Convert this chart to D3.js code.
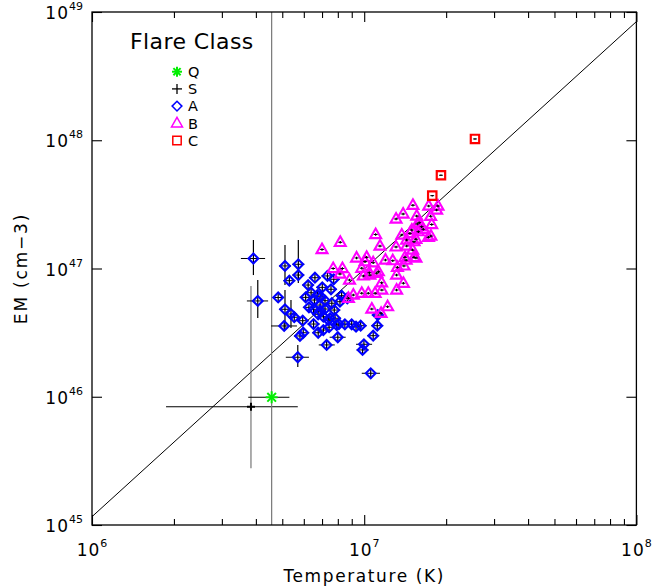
<!DOCTYPE html>
<html>
<head>
<meta charset="utf-8">
<script src="https://cdn.jsdelivr.net/npm/d3@7"></script>
<style>
body { margin: 0; background: #fff; }
text { font-family: "DejaVu Sans", sans-serif; fill: #000; }
</style>
</head>
<body>
<svg id="chart" width="655" height="587"></svg>
<script>
// values, as log10 T (K) and log10 EM (cm^-3)
var classA_logT = [6.593, 6.609, 6.709, 6.758, 6.758, 6.725, 6.684, 6.709, 6.731, 6.743,
  6.706, 6.774, 6.776, 6.764, 6.756, 6.819, 6.846, 6.805, 6.785, 6.817,
  6.841, 6.856, 6.878, 6.888, 6.797, 6.814, 6.838, 6.856, 6.881, 6.890,
  6.850, 6.868, 6.893, 6.907, 6.814, 6.831, 6.850, 6.871, 6.862, 6.903,
  6.828, 6.917, 6.838, 6.911, 6.938, 6.831, 6.874, 6.899, 6.929, 6.954,
  6.970, 6.987, 7.048, 7.033, 6.999, 6.994, 7.024, 7.050, 6.865, 6.794];
var classA_logEM = [47.078, 46.747, 47.020, 47.033, 46.949, 46.905, 46.774, 46.682, 46.645, 46.620,
  46.552, 46.593, 46.499, 46.474, 46.308, 46.928, 46.853, 46.811, 46.775, 46.754,
  46.780, 46.749, 46.838, 46.916, 46.697, 46.682, 46.669, 46.684, 46.729, 46.676,
  46.624, 46.598, 46.612, 46.567, 46.567, 46.499, 46.520, 46.542, 46.404, 46.464,
  46.793, 46.788, 46.715, 46.741, 46.768, 46.643, 46.612, 46.559, 46.565, 46.565,
  46.546, 46.554, 46.554, 46.476, 46.409, 46.365, 46.183, 46.637, 46.942, 46.871];
// class A points with wide error bars: [index, logT lo, logT hi, logEM lo, logEM hi]
var classA_wideErr = [
  [0, 6.547, 6.636, 46.949, 47.222],
  [1, 6.569, 6.647, 46.614, 46.910],
  [2, 6.687, 6.731, 46.871, 47.183],
  [3, 6.736, 6.780, 46.887, 47.222],
  [6, 6.665, 6.705, 46.735, 46.813],
  [7, 6.687, 6.731, 46.520, 46.832],
  [8, 6.709, 6.753, 46.536, 46.754],
  [10, 6.658, 6.753, 46.512, 46.592],
  [14, 6.712, 6.797, 46.232, 46.404],
  [38, 6.833, 6.892, 46.364, 46.444],
  [39, 6.873, 6.932, 46.424, 46.504],
  [44, 6.912, 6.964, 46.728, 46.808],
  [54, 6.970, 7.029, 46.369, 46.449],
  [56, 6.991, 7.058, 46.143, 46.223]];

var classB_logT = [6.845, 6.912, 6.886, 6.920, 6.911, 6.946, 6.972, 7.003, 6.991, 7.033,
  7.052, 7.019, 6.997, 7.078, 7.105, 7.122, 7.154, 7.183, 7.146, 7.119,
  7.144, 7.119, 7.064, 7.065, 7.040, 7.015, 6.991, 6.960, 6.942, 7.028,
  7.062, 7.086, 7.117, 7.058, 7.042, 7.117, 7.143, 7.179, 7.193, 7.195,
  7.168, 7.138, 7.156, 7.183, 7.156, 7.178, 7.190, 7.217, 7.236, 7.248,
  7.245, 7.199, 7.211, 7.244, 7.237, 7.271, 7.266, 7.202, 7.175, 7.190,
  7.150, 7.046, 7.021, 7.009];
var classB_logEM = [47.148, 47.204, 47.000, 47.000, 46.957, 46.910, 47.082, 47.053, 47.002, 47.045,
  46.975, 46.967, 46.942, 47.066, 47.061, 47.009, 47.066, 47.087, 47.020, 46.949,
  46.885, 46.832, 46.889, 46.832, 46.807, 46.807, 46.807, 46.793, 46.768, 46.684,
  46.651, 46.702, 47.168, 47.175, 47.265, 47.386, 47.425, 47.493, 47.409, 47.347,
  47.274, 47.261, 47.222, 47.209, 47.175, 47.144, 47.228, 47.306, 47.243, 47.343,
  47.253, 47.287, 47.326, 47.407, 47.487, 47.487, 47.456, 47.357, 47.300, 47.082,
  47.087, 46.963, 46.949, 47.087];

var classC_logT = [7.407, 7.282, 7.250];
var classC_logEM = [48.010, 47.727, 47.568];

// single Q and S events: [logT, logEM, logT lo, logT hi, logEM lo, logEM hi]
var classQ = [6.660, 45.996, 6.574, 6.725, 44.0, 50.0];
var classS = [6.584, 45.922, 6.272, 6.756, 45.442, 46.864];

// typical half error bar (dex) for the crowded classes: [logT, logEM]
var typErrA = [0.022, 0.040];
var typErrB = [0.007, 0.010];
var typErrC = [0.007, 0.006];

var fitLine_logT = [6, 8];
var fitLine_logEM = [45.065, 48.925];

var xDecades = [6, 7, 8];
var yDecades = [45, 46, 47, 48, 49];
var legendLabels = ["Q", "S", "A", "B", "C"];

var svg = d3.select("#chart");
var pL = 92, pR = 636.4, pT = 12, pB = 525;

var x = d3.scaleLog().domain([1e6, 1e8]).range([pL, pR]);
var y = d3.scaleLog().domain([1e45, 1e49]).range([pB, pT]);
var X = function(l) { return x(Math.pow(10, l)); };
var Y = function(l) { return y(Math.pow(10, l)); };

svg.append("clipPath").attr("id", "plotclip")
  .append("rect").attr("x", pL).attr("y", pT)
  .attr("width", pR - pL).attr("height", pB - pT);

var plot = svg.append("g").attr("clip-path", "url(#plotclip)");

// fit line
plot.append("line")
  .attr("x1", X(fitLine_logT[0])).attr("y1", Y(fitLine_logEM[0]))
  .attr("x2", X(fitLine_logT[1])).attr("y2", Y(fitLine_logEM[1]))
  .attr("stroke", "#000").attr("stroke-width", 1);

// error bars
function errBars(g, tx0, tx1, ty, sx, sy0, sy1, vcol) {
  g.append("line").attr("x1", X(tx0)).attr("x2", X(tx1))
    .attr("y1", Y(ty)).attr("y2", Y(ty)).attr("stroke", "#000").attr("stroke-width", 1);
  g.append("line").attr("x1", X(sx)).attr("x2", X(sx))
    .attr("y1", Y(sy0)).attr("y2", Y(sy1)).attr("stroke", vcol).attr("stroke-width", 1.2);
}

var ebars = plot.append("g");
errBars(ebars, classS[2], classS[3], classS[1], classS[0], classS[4], classS[5], "#777");
errBars(ebars, classQ[2], classQ[3], classQ[1], classQ[0], classQ[4], classQ[5], "#777");

var wide = {};
classA_wideErr.forEach(function(e) { wide[e[0]] = e; });
classA_logT.forEach(function(t, i) {
  var em = classA_logEM[i];
  var e = wide[i] || [i, t - typErrA[0], t + typErrA[0], em - typErrA[1], em + typErrA[1]];
  errBars(ebars, e[1], e[2], em, t, e[3], e[4], "#000");
});

// markers
var diamond = "M0,-4.9L4.9,0L0,4.9L-4.9,0Z";
var triangle = "M0,-6L5.5,3.6L-5.5,3.6Z";
var square = "M-4.2,-4.2H4.2V4.2H-4.2Z";

plot.append("g").selectAll("path").data(classA_logT).join("path")
  .attr("d", diamond)
  .attr("transform", function(t, i) { return "translate(" + X(t) + "," + Y(classA_logEM[i]) + ")"; })
  .attr("fill", "none").attr("stroke", "#0000ff").attr("stroke-width", 2.1);

var bG = plot.append("g");
bG.selectAll("path").data(classB_logT).join("path")
  .attr("d", triangle)
  .attr("transform", function(t, i) { return "translate(" + X(t) + "," + Y(classB_logEM[i]) + ")"; })
  .attr("fill", "none").attr("stroke", "#ff00ff").attr("stroke-width", 2.1);
classB_logT.forEach(function(t, i) {
  var em = classB_logEM[i];
  errBars(bG, t - typErrB[0], t + typErrB[0], em, t, em - typErrB[1], em + typErrB[1], "#000");
});

var cG = plot.append("g");
cG.selectAll("path").data(classC_logT).join("path")
  .attr("d", square)
  .attr("transform", function(t, i) { return "translate(" + X(t) + "," + Y(classC_logEM[i]) + ")"; })
  .attr("fill", "none").attr("stroke", "#ff0000").attr("stroke-width", 2.2);
classC_logT.forEach(function(t, i) {
  var em = classC_logEM[i];
  errBars(cG, t - typErrC[0], t + typErrC[0], em, t, em - typErrC[1], em + typErrC[1], "#000");
});

// Q asterisk and S plus
function asterisk(g, cx, cy, r, col) {
  [[0, 1], [1, 0], [0.72, 0.72], [0.72, -0.72]].forEach(function(d) {
    g.append("line").attr("x1", cx - d[0] * r).attr("y1", cy - d[1] * r)
      .attr("x2", cx + d[0] * r).attr("y2", cy + d[1] * r)
      .attr("stroke", col).attr("stroke-width", 2);
  });
}
function plus(g, cx, cy, r, col, w) {
  g.append("line").attr("x1", cx - r).attr("x2", cx + r).attr("y1", cy).attr("y2", cy)
    .attr("stroke", col).attr("stroke-width", w);
  g.append("line").attr("x1", cx).attr("x2", cx).attr("y1", cy - r).attr("y2", cy + r)
    .attr("stroke", col).attr("stroke-width", w);
}
plus(plot, X(classS[0]), Y(classS[1]), 4, "#000", 2);
asterisk(plot, X(classQ[0]), Y(classQ[1]), 6, "#00ee00");

// frame and ticks
var axes = svg.append("g");
axes.append("rect").attr("x", pL).attr("y", pT)
  .attr("width", pR - pL).attr("height", pB - pT)
  .attr("fill", "none").attr("stroke", "#000").attr("stroke-width", 1.3);

var xMinor = [];
[6, 7].forEach(function(d) { for (var k = 2; k <= 9; k++) xMinor.push(k * Math.pow(10, d)); });
var xMajor = xDecades.map(function(d) { return Math.pow(10, d); });
var yMajor = yDecades.map(function(d) { return Math.pow(10, d); });

function tickAxis(axisFn, scale, vals, size, tx, ty) {
  axes.append("g").attr("transform", "translate(" + tx + "," + ty + ")")
    .call(axisFn(scale).tickValues(vals).tickSizeInner(size).tickSizeOuter(0).tickFormat(""))
    .call(function(g) { g.select(".domain").remove(); g.selectAll("line").attr("stroke-width", 1.1); });
}
tickAxis(d3.axisBottom, x, xMajor, -10, 0, pB);
tickAxis(d3.axisBottom, x, xMinor, -6, 0, pB);
tickAxis(d3.axisTop, x, xMajor, -10, 0, pT);
tickAxis(d3.axisTop, x, xMinor, -6, 0, pT);
tickAxis(d3.axisLeft, y, yMajor, -10, pL, 0);
tickAxis(d3.axisRight, y, yMajor, -10, pR, 0);

// tick labels 10^n
function powLabel(sel) {
  sel.append("tspan").attr("font-size", 17).attr("letter-spacing", 1).text("10");
  sel.append("tspan").attr("font-size", 11).attr("dy", -9).text(function(d) { return d; });
}
axes.append("g").selectAll("text").data(xDecades).join("text")
  .attr("x", function(d) { return x(Math.pow(10, d)); }).attr("y", 556)
  .attr("text-anchor", "middle").call(powLabel);
axes.append("g").selectAll("text").data(yDecades).join("text")
  .attr("x", 83).attr("y", function(d) { return y(Math.pow(10, d)) + 7; })
  .attr("text-anchor", "end").call(powLabel);

svg.append("text").attr("x", (pL + pR) / 2).attr("y", 582)
  .attr("text-anchor", "middle").attr("font-size", 17).attr("letter-spacing", 1.6)
  .text("Temperature (K)");
svg.append("text").attr("transform", "translate(27," + ((pT + pB) / 2) + ") rotate(-90)")
  .attr("text-anchor", "middle").attr("font-size", 17).attr("letter-spacing", 1.8)
  .text("EM (cm\u22123)");

// legend
var leg = svg.append("g");
leg.append("text").attr("x", 130).attr("y", 49).attr("font-size", 22).attr("letter-spacing", 0.4)
  .text("Flare Class");
legendLabels.forEach(function(lab, i) {
  var cy = 71.7 + i * 17.2, cx = 177;
  if (lab === "Q") asterisk(leg, cx, cy, 5, "#00ee00");
  if (lab === "S") plus(leg, cx, cy, 5, "#000", 1.3);
  if (lab === "A") leg.append("path").attr("d", diamond).attr("transform", "translate(" + cx + "," + cy + ")")
    .attr("fill", "none").attr("stroke", "#0000ff").attr("stroke-width", 1.5);
  if (lab === "B") leg.append("path").attr("d", triangle).attr("transform", "translate(" + cx + "," + cy + ")")
    .attr("fill", "none").attr("stroke", "#ff00ff").attr("stroke-width", 1.5);
  if (lab === "C") leg.append("path").attr("d", square).attr("transform", "translate(" + cx + "," + cy + ")")
    .attr("fill", "none").attr("stroke", "#ff0000").attr("stroke-width", 1.5);
  leg.append("text").attr("x", 188).attr("y", cy + 5.3).attr("font-size", 14.5).text(lab);
});
</script>
</body>
</html>
